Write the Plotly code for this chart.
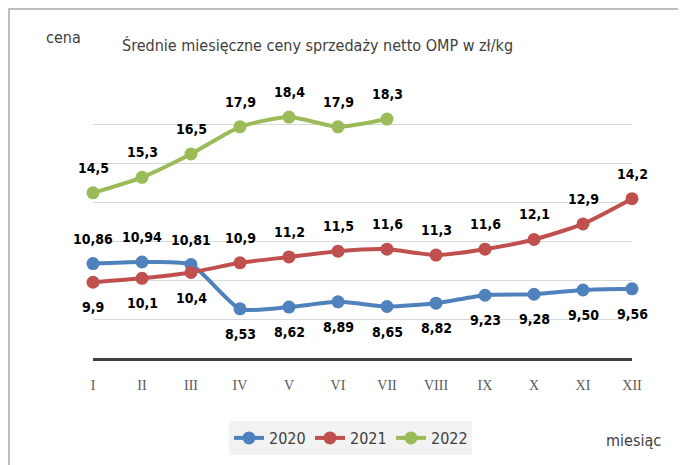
import plotly.graph_objects as go

months = ["I", "II", "III", "IV", "V", "VI", "VII", "VIII", "IX", "X", "XI", "XII"]
v2020 = [10.86, 10.94, 10.81, 8.53, 8.62, 8.89, 8.65, 8.82, 9.23, 9.28, 9.50, 9.56]
v2021 = [9.9, 10.1, 10.4, 10.9, 11.2, 11.5, 11.6, 11.3, 11.6, 12.1, 12.9, 14.2]
v2022 = [14.5, 15.3, 16.5, 17.9, 18.4, 17.9, 18.3]
# label placement: 1 = above, -1 = below
pos2020 = [1, 1, 1, -1, -1, -1, -1, -1, -1, -1, -1, -1]
pos2021 = [-1, -1, -1, 1, 1, 1, 1, 1, 1, 1, 1, 1]
pos2022 = [1] * 7

series = [
    ("2020", v2020, pos2020, "#4f81bd", 2),
    ("2021", v2021, pos2021, "#c0504d", 1),
    ("2022", v2022, pos2022, "#9bbb59", 1),
]

NARROW = "DejaVu Sans Condensed, Lato, sans-serif"

fig = go.Figure()
annotations = []
for name, vals, pos, color, dec in series:
    fig.add_trace(go.Scatter(
        x=months[:len(vals)], y=vals, name=name, mode="lines+markers",
        line=dict(color=color, width=4, shape="spline", smoothing=0.6),
        marker=dict(color=color, size=13),
        cliponaxis=False,
    ))
    for m, v, p in zip(months, vals, pos):
        txt = f"{v:.{dec}f}".replace(".", ",")
        annotations.append(dict(
            x=m, y=v, xref="x", yref="y", text=f"<b>{txt}</b>", showarrow=False,
            yshift=25 * p, font=dict(family=NARROW, size=14, color="#000000"),
        ))

OFF = 8  # page body margin
L, R, T, B = 93 - OFF, 632 - OFF, 86 - OFF, 358 - OFF
W, H = 686, 465

def px(x):
    return (x - OFF - L) / (R - L)

def py(y):
    return (B - (y - OFF)) / (B - T)

annotations += [
    dict(text="Średnie miesięczne ceny sprzedaży netto OMP w zł/kg", xref="paper", yref="paper",
         x=px(120), y=py(45), xanchor="left", yanchor="middle", showarrow=False,
         font=dict(family=NARROW, size=16, color="#404040")),
    dict(text="cena", xref="paper", yref="paper", x=px(44), y=py(38), xanchor="left",
         yanchor="middle", showarrow=False, font=dict(family=NARROW, size=16, color="#404040")),
    dict(text="miesiąc", xref="paper", yref="paper", x=px(604), y=py(440), xanchor="left",
         yanchor="middle", showarrow=False, font=dict(family=NARROW, size=16, color="#404040")),
]

fig.update_layout(
    width=W, height=H,
    margin=dict(l=L, r=W - R, t=T, b=H - B),
    paper_bgcolor="white", plot_bgcolor="white",
    showlegend=True,
    legend=dict(orientation="h", x=px(229), y=py(421), xanchor="left", yanchor="top",
                bgcolor="#f2f2f2", font=dict(family=NARROW, size=16, color="#404040"),
                itemwidth=30, tracegroupgap=0, entrywidth=36),
    annotations=annotations,
    shapes=[dict(type="rect", xref="paper", yref="paper", x0=px(9), x1=px(740), y0=py(520),
                 y1=py(9), line=dict(color="#bfbfbf", width=2), layer="below")],
    xaxis=dict(type="category", categoryorder="array", categoryarray=months, range=[0, 11],
               showgrid=False, showline=True, linecolor="#404040", linewidth=3,
               ticks="", ticklabelstandoff=12, zeroline=False,
               tickfont=dict(family="Liberation Serif, DejaVu Serif, serif", size=14, color="#595959")),
    yaxis=dict(range=[6, 20], dtick=2, showticklabels=False, showgrid=True,
               gridcolor="#d9d9d9", gridwidth=1, zeroline=False, showline=False),
)

fig.write_html("out.html")
